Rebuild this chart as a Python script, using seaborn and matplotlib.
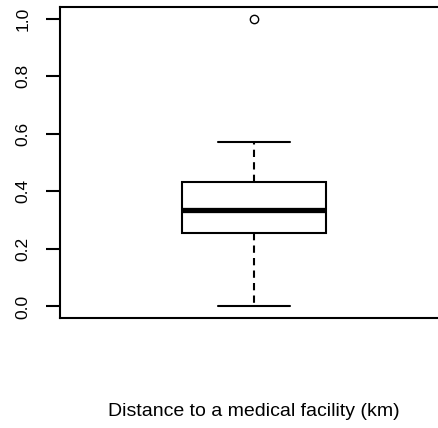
import matplotlib
matplotlib.use("Agg")
import matplotlib.pyplot as plt
import seaborn as sns

# distances (km): min, Q1, median, Q3, upper whisker, outlier
distance_km = [0.0, 0.12, 0.255, 0.29, 0.334, 0.38, 0.434, 0.57, 1.0]
y_ticks = [0.0, 0.2, 0.4, 0.6, 0.8, 1.0]
x_label = "Distance to a medical facility (km)"

sns.set_theme(style="ticks")
plt.rcParams['font.family'] = ['Liberation Sans', 'DejaVu Sans']

fig = plt.figure(figsize=(4.39, 4.28), dpi=100)
ax = fig.add_axes([60 / 439, 110 / 428, 388 / 439, 311 / 428])

sns.boxplot(y=distance_km, ax=ax, width=0.8, color="white", linecolor="black",
            linewidth=1.5, saturation=1,
            medianprops=dict(linewidth=3.8, color="black"),
            whiskerprops=dict(linewidth=1.5, linestyle=(0, (3.5, 2.5)), color="black"),
            capprops=dict(linewidth=1.5, color="black"),
            flierprops=dict(marker="o", markerfacecolor="none", markeredgecolor="black",
                            markersize=6, markeredgewidth=1.0))

ax.set_xlim(-1.071, 1.071)
ax.set_ylim(-0.04, 1.04)
ax.set_xticks([])
ax.set_yticks(y_ticks)
ax.set_yticklabels([f"{v:.1f}" for v in y_ticks])
ax.tick_params(axis="y", length=10, width=1.5, pad=11, labelsize=12.5,
               labelrotation=90, colors="black")
for lbl in ax.get_yticklabels():
    lbl.set_va("center")
for side in ["left", "bottom", "top", "right"]:
    ax.spines[side].set_visible(True)
    ax.spines[side].set_linewidth(1.5)
    ax.spines[side].set_color("black")

ax.set_ylabel("")
ax.set_xlabel(x_label, fontsize=14, labelpad=61, color="black")

fig.savefig("out.png", dpi=100)
